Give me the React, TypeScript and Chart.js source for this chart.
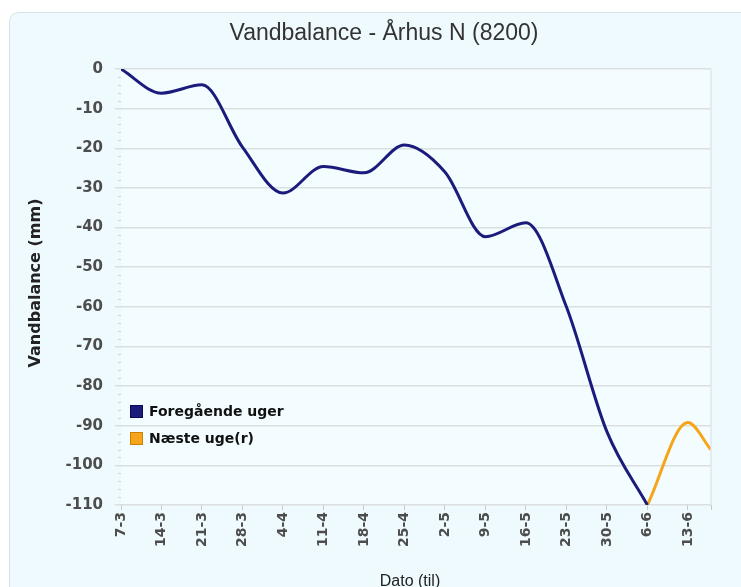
import React, { useEffect, useRef } from 'react';
import { Chart, registerables } from 'chart.js';

Chart.register(...registerables);

const chartTitle = 'Vandbalance - Århus N (8200)';
const yAxisTitle = 'Vandbalance (mm)';
const xAxisTitle = 'Dato (til)';

const dateLabels = ['7-3', '14-3', '21-3', '28-3', '4-4', '11-4', '18-4', '25-4', '2-5', '9-5', '16-5', '23-5', '30-5', '6-6', '13-6'];
const tickDays = [0, 7, 14, 21, 28, 35, 42, 49, 56, 63, 70, 77, 84, 91, 98];
const xMaxDay = 102;

const previousDays = [0, 7, 14, 21, 28, 35, 42, 49, 56, 63, 70, 77, 84, 91];
const previousValues = [0, -6.1, -4.0, -19.7, -31.3, -24.6, -26.2, -19.2, -26, -42.3, -38.8, -60, -91.5, -110];

const nextDays = [91, 98, 102];
const nextValues = [-110, -89.2, -96.1];

const yTicks = [0, -10, -20, -30, -40, -50, -60, -70, -80, -90, -100, -110];

const seriesNames = ['Foregående uger', 'Næste uge(r)'];
const seriesColors = ['#1b1b7c', '#f6a51a'];
const legendBorders = ['#0b0b55', '#c98200'];

const decorPlugin = {
  id: 'decor',
  beforeDraw(chart: any) {
    const { ctx, width, height } = chart;
    ctx.save();
    ctx.fillStyle = '#ffffff';
    ctx.fillRect(0, 0, width, height);
    ctx.beginPath();
    const x0 = 9.5, y0 = 12.5, r = 10;
    const x1 = width + 20, y1 = height + 20;
    ctx.moveTo(x0 + r, y0);
    ctx.lineTo(x1, y0);
    ctx.lineTo(x1, y1);
    ctx.lineTo(x0, y1);
    ctx.lineTo(x0, y0 + r);
    ctx.quadraticCurveTo(x0, y0, x0 + r, y0);
    ctx.closePath();
    ctx.fillStyle = '#eefafd';
    ctx.fill();
    ctx.strokeStyle = '#d6e2e5';
    ctx.lineWidth = 1;
    ctx.stroke();
    const a = chart.chartArea;
    ctx.fillStyle = '#f3fcfe';
    ctx.fillRect(a.left, a.top, a.right - a.left, a.bottom - a.top);
    ctx.restore();
  },
  afterDraw(chart: any) {
    const { ctx } = chart;
    const a = chart.chartArea;
    const yScale = chart.scales.y;
    ctx.save();
    // right border of plot area
    ctx.strokeStyle = '#e2e6e8';
    ctx.lineWidth = 1.5;
    ctx.beginPath();
    ctx.moveTo(a.right, a.top);
    ctx.lineTo(a.right, a.bottom);
    ctx.stroke();
    // minor ticks on y axis
    ctx.strokeStyle = '#cfd4d6';
    ctx.lineWidth = 1;
    for (let v = 0; v >= -110; v -= 2) {
      if (v % 10 === 0) continue;
      const py = Math.round(yScale.getPixelForValue(v)) + 0.5;
      ctx.beginPath();
      ctx.moveTo(a.left - 3, py);
      ctx.lineTo(a.left, py);
      ctx.stroke();
    }
    // title
    ctx.fillStyle = '#333333';
    ctx.font = '23px "Liberation Sans", Arial, sans-serif';
    ctx.textAlign = 'center';
    ctx.textBaseline = 'middle';
    ctx.fillText(chartTitle, 384, 34);
    // y axis title
    ctx.save();
    ctx.translate(36, 283);
    ctx.rotate(-Math.PI / 2);
    ctx.fillStyle = '#222222';
    ctx.font = 'bold 16px "DejaVu Sans", sans-serif';
    ctx.fillText(yAxisTitle, 0, 0);
    ctx.restore();
    // x axis title
    ctx.fillStyle = '#222222';
    ctx.font = '16px "Liberation Sans", Arial, sans-serif';
    ctx.fillText(xAxisTitle, 410, 582);
    // legend
    const lx = 130;
    const ly = [405, 432];
    ctx.textAlign = 'left';
    ctx.font = 'bold 14px "DejaVu Sans", sans-serif';
    for (let i = 0; i < seriesNames.length; i++) {
      ctx.fillStyle = seriesColors[i];
      ctx.fillRect(lx, ly[i], 13, 13);
      ctx.strokeStyle = legendBorders[i];
      ctx.lineWidth = 1;
      ctx.strokeRect(lx + 0.5, ly[i] + 0.5, 12, 12);
      ctx.fillStyle = '#111111';
      ctx.fillText(seriesNames[i], lx + 19, ly[i] + 7);
    }
    ctx.restore();
  },
};

export default function App() {
  const canvasRef = useRef<HTMLCanvasElement | null>(null);

  useEffect(() => {
    if (!canvasRef.current) return;
    const labelFor = (v: number) => {
      const idx = tickDays.indexOf(v);
      return idx >= 0 ? dateLabels[idx] : '';
    };
    const chart = new Chart(canvasRef.current, {
      type: 'line',
      data: {
        datasets: [
          {
            label: seriesNames[0],
            data: previousDays.map((d, i) => ({ x: d, y: previousValues[i] })),
            borderColor: seriesColors[0],
            backgroundColor: seriesColors[0],
            borderWidth: 3,
            pointRadius: 0,
            fill: false,
            cubicInterpolationMode: 'monotone',
          },
          {
            label: seriesNames[1],
            data: nextDays.map((d, i) => ({ x: d, y: nextValues[i] })),
            borderColor: seriesColors[1],
            backgroundColor: seriesColors[1],
            borderWidth: 3,
            pointRadius: 0,
            fill: false,
            cubicInterpolationMode: 'monotone',
          },
        ],
      },
      options: {
        animation: false,
        responsive: false,
        devicePixelRatio: 1,
        layout: { padding: { top: 69, right: 30, left: 0, bottom: 0 } },
        plugins: {
          legend: { display: false },
          title: { display: false },
          tooltip: { enabled: false },
        },
        scales: {
          x: {
            type: 'linear',
            min: 0,
            max: xMaxDay,
            afterBuildTicks: (s: any) => {
              s.ticks = [...tickDays, xMaxDay].map((v) => ({ value: v }));
            },
            afterFit: (s: any) => {
              s.height = 82;
            },
            ticks: {
              autoSkip: false,
              minRotation: 90,
              maxRotation: 90,
              padding: 2,
              color: '#4d4d4d',
              font: { family: '"DejaVu Sans", sans-serif', size: 14, weight: 'bold' },
              callback: (v: any) => labelFor(Number(v)),
            },
            grid: { drawOnChartArea: false, drawTicks: true, tickLength: 5, color: '#c8c8c8' },
            border: { display: false },
          },
          y: {
            type: 'linear',
            min: -110,
            max: 0,
            afterBuildTicks: (s: any) => {
              s.ticks = yTicks.map((v) => ({ value: v }));
            },
            afterFit: (s: any) => {
              s.width = 121;
            },
            ticks: {
              padding: 12,
              color: '#4d4d4d',
              font: { family: '"DejaVu Sans", sans-serif', size: 15, weight: 'bold' },
            },
            grid: { color: '#dcdfe0', lineWidth: 1.5, tickLength: 6, drawTicks: true },
            border: { display: false },
          },
        },
      },
      plugins: [decorPlugin],
    });
    return () => chart.destroy();
  }, []);

  return (
    <div style={{ position: 'fixed', left: 0, top: 0, width: 741, height: 587, overflow: 'hidden' }}>
      <canvas ref={canvasRef} width={741} height={587} style={{ display: 'block' }} />
    </div>
  );
}
